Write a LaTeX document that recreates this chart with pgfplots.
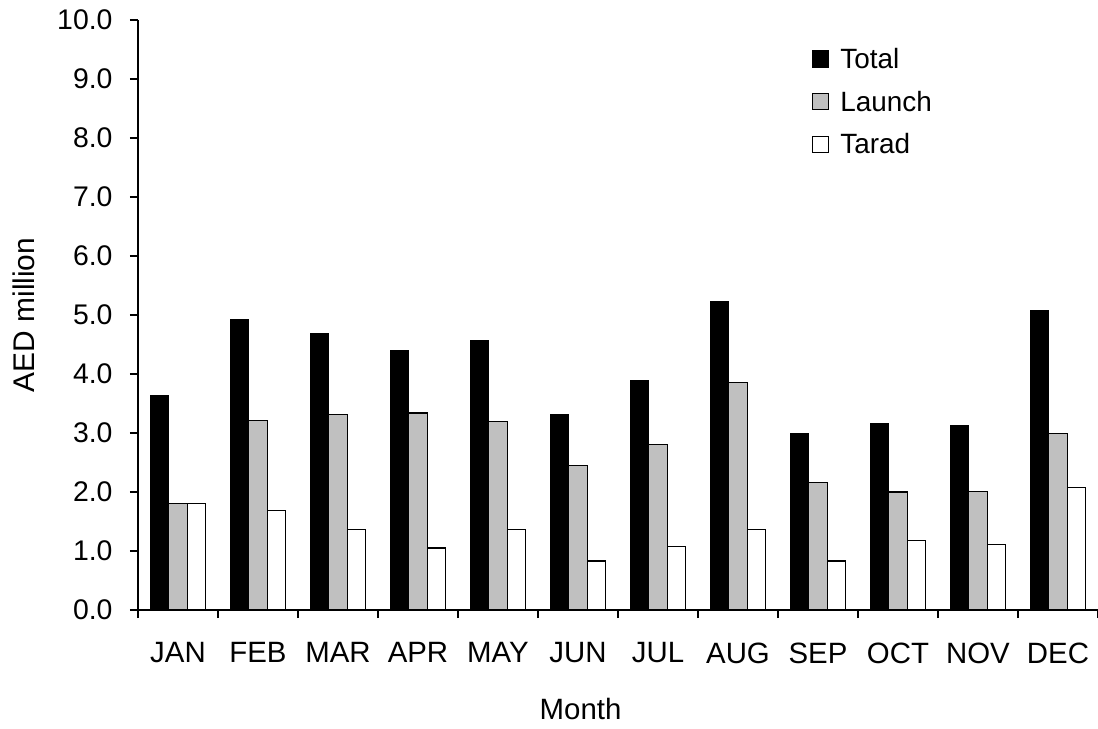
\documentclass[border=0pt]{standalone}
\usepackage{fontspec}
\setmainfont{Liberation Sans}
\usepackage{pgfplots}
\pgfplotsset{compat=1.18}
\definecolor{lgray}{RGB}{192,192,192}
\pgfplotstableread{
x total launch tarad
0 3.64 1.81 1.81
1 4.92 3.21 1.69
2 4.69 3.31 1.37
3 4.40 3.34 1.05
4 4.56 3.19 1.37
5 3.32 2.45 0.83
6 3.89 2.80 1.08
7 5.23 3.85 1.37
8 2.99 2.16 0.83
9 3.16 2.00 1.18
10 3.12 2.01 1.11
11 5.07 2.99 2.07
}\datatable
\pgfplotsset{sqleg/.style={legend image code/.code={\draw[##1, line width=1.2bp] (0bp,-8bp) rectangle (16bp,8bp);}}}
\begin{document}
\begin{tikzpicture}
\path[use as bounding box] (-138bp,-119bp) rectangle (960bp,610bp);
\begin{axis}[
  at={(0,0)}, anchor=south west,
  scale only axis, width=960bp, height=590bp,
  ybar=0pt, bar width=18.5bp,
  xmin=-0.5, xmax=11.5, ymin=0, ymax=10,
  axis x line*=bottom, axis y line*=left,
  axis line style={-, line width=1.2bp, black},
  xtick={0,...,11},
  xticklabels={JAN,FEB,MAR,APR,MAY,JUN,JUL,AUG,SEP,OCT,NOV,DEC},
  major x tick style={draw=none},
  minor xtick={-0.5,0.5,...,11.5},
  ytick={0,1,...,10},
  tick align=outside,
  major tick length=8bp, minor tick length=8bp,
  tick style={line width=1.2bp, black},
  /pgf/number format/assume math mode=true,
  yticklabel={\pgfmathprintnumber[fixed,fixed zerofill,precision=1]{\tick}},
  yticklabel style={xshift=-14bp, font=\fontsize{28.5}{32}\selectfont},
  xticklabel style={yshift=-21bp, font=\fontsize{29.5}{33}\selectfont},
  xlabel={Month}, ylabel={AED million},
  every axis x label/.style={at={(axis description cs:0.461,-0.168)}, anchor=center, font=\fontsize{29.5}{34}\selectfont},
  every axis y label/.style={at={(axis description cs:-0.119,0.5)}, rotate=90, anchor=center, font=\fontsize{30}{34}\selectfont},
  legend style={at={(rel axis cs:0.702,0.956)}, anchor=north west, draw=none, fill=none,
    font=\fontsize{28}{32}\selectfont, row sep=17bp, column sep=9bp, inner sep=0pt},
  legend cell align=left,
]
\addplot[draw=black, fill=black, line width=1.2bp, sqleg] table[x=x, y=total] {\datatable};
\addplot[draw=black, fill=lgray, line width=1.2bp, sqleg] table[x=x, y=launch] {\datatable};
\addplot[draw=black, fill=white, line width=1.2bp, sqleg] table[x=x, y=tarad] {\datatable};
\legend{Total, Launch, Tarad}
\end{axis}
\end{tikzpicture}
\end{document}
